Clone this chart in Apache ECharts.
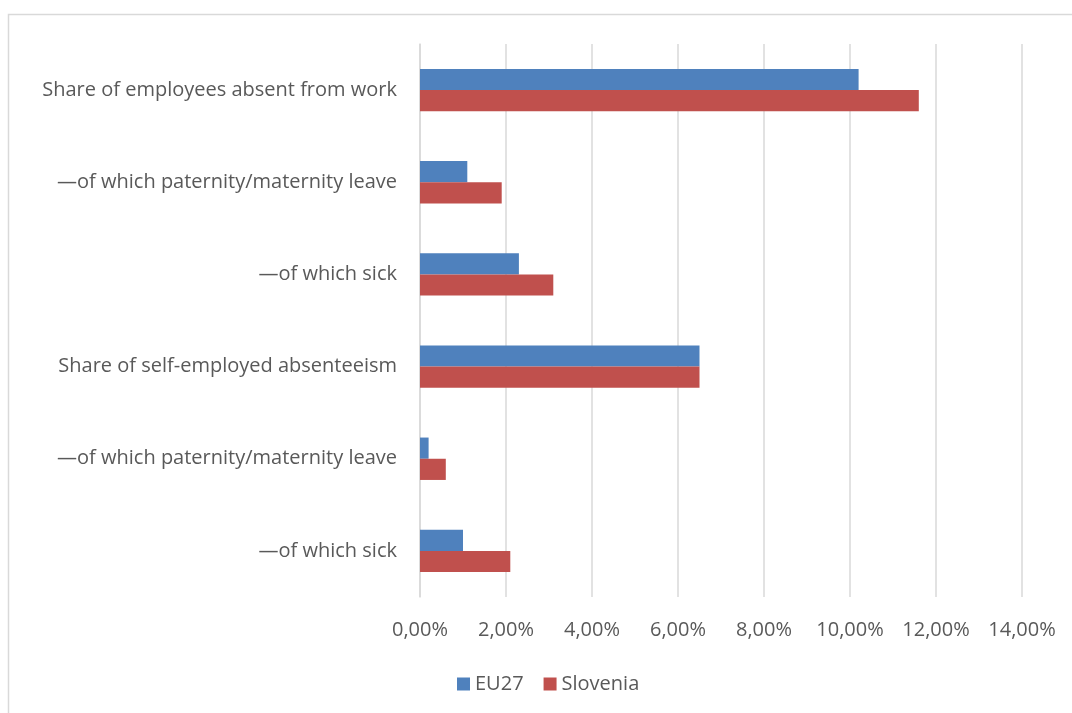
<!DOCTYPE html>
<html>
<head>
<meta charset="utf-8">
<script src="https://cdn.jsdelivr.net/npm/echarts@6/dist/echarts.min.js"></script>
<style>
  html, body { margin: 0; padding: 0; background: #fff; }
  #chart { width: 1072px; height: 713px; }
</style>
</head>
<body>
<div id="chart"></div>
<script>
// Absence indicators, share of workers (%)
const categories = [
  'Share of employees absent from work',
  '\u2014of which paternity/maternity leave',
  '\u2014of which sick',
  'Share of self-employed absenteeism',
  '\u2014of which paternity/maternity leave',
  '\u2014of which sick'
];
const eu27 = [10.2, 1.1, 2.3, 6.5, 0.2, 1.0];
const slovenia = [11.6, 1.9, 3.1, 6.5, 0.6, 2.1];
const seriesNames = ['EU27', 'Slovenia'];
const axisMin = 0, axisMax = 14, axisStep = 2;

const FONT = 'Open Sans';
const TEXT = '#595959';

const chart = echarts.init(document.getElementById('chart'), null, { renderer: 'canvas' });

chart.setOption({
  animation: false,
  backgroundColor: '#ffffff',
  textStyle: { fontFamily: FONT, color: TEXT },
  graphic: [{
    type: 'rect',
    shape: { x: 8.5, y: 14.5, width: 1100, height: 800 },
    style: { fill: 'none', stroke: '#d9d9d9', lineWidth: 1.5 },
    silent: true, z: -1
  }],
  grid: { left: 420, right: 50, top: 44, bottom: 116, containLabel: false },
  legend: {
    data: seriesNames,
    left: 452,
    top: 669,
    itemWidth: 13,
    itemHeight: 13,
    itemGap: 20,
    icon: 'rect',
    textStyle: { fontFamily: FONT, fontSize: 20, color: TEXT }
  },
  xAxis: {
    type: 'value',
    min: axisMin, max: axisMax, interval: axisStep,
    axisLine: { show: false },
    axisTick: { show: false },
    splitLine: { show: true, lineStyle: { color: '#d9d9d9', width: 1.5 } },
    axisLabel: {
      fontFamily: FONT, fontSize: 20, color: TEXT, margin: 23,
      formatter: v => v.toFixed(2).replace('.', ',') + '%'
    }
  },
  yAxis: {
    type: 'category',
    data: categories,
    inverse: true,
    axisLine: { show: true, lineStyle: { color: '#d9d9d9', width: 1.5 } },
    axisTick: { show: false },
    axisLabel: { fontFamily: FONT, fontSize: 20, color: TEXT, margin: 23 }
  },
  series: [
    {
      name: seriesNames[0], type: 'bar', data: eu27,
      barGap: '0%', barCategoryGap: '54%',
      itemStyle: { color: '#4f81bd' }
    },
    {
      name: seriesNames[1], type: 'bar', data: slovenia,
      barGap: '0%', barCategoryGap: '54%',
      itemStyle: { color: '#c0504d' }
    }
  ]
});
</script>
</body>
</html>
